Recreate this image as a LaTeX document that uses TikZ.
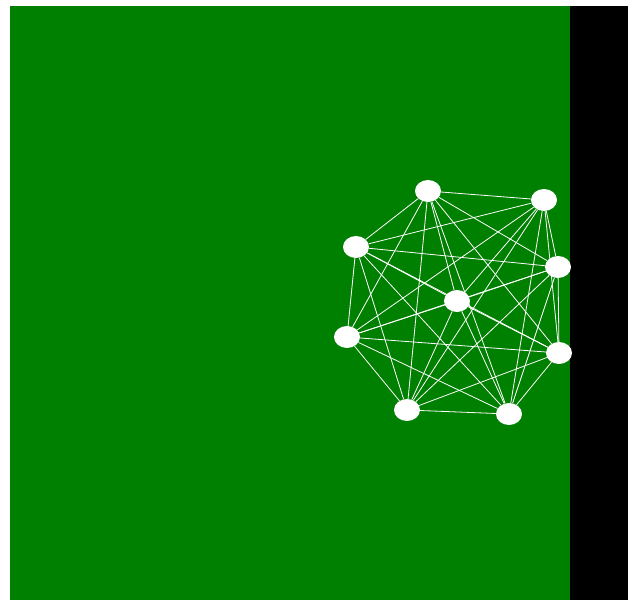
\documentclass[tikz,border=0pt]{standalone}
\usetikzlibrary{shapes.geometric}
\definecolor{bggreen}{RGB}{0,128,0}
\begin{document}
\begin{tikzpicture}[x=1pt,y=-1pt,
  vertex/.style={ellipse,fill=white,draw=none,minimum width=26pt,minimum height=22pt,inner sep=0pt},
  edge/.style={white,line width=0.8pt}]
\useasboundingbox (0,0) rectangle (633,601);
\fill[white] (0,0) rectangle (633,601);
\fill[bggreen] (10,6) rectangle (570,600);
\fill[black] (570,6) rectangle (628,600);
\node[vertex] (v1) at (428,191) {};
\node[vertex] (v2) at (544,200) {};
\node[vertex] (v3) at (356,247) {};
\node[vertex] (v4) at (558,267) {};
\node[vertex] (v5) at (457,301) {};
\node[vertex] (v6) at (347,337) {};
\node[vertex] (v7) at (559,353) {};
\node[vertex] (v8) at (407,410) {};
\node[vertex] (v9) at (509,414) {};
\foreach \i in {1,...,9}{
  \foreach \j in {1,...,9}{
    \ifnum\i<\j
      \draw[edge] (v\i) -- (v\j);
    \fi
  }
}
\end{tikzpicture}
\end{document}
